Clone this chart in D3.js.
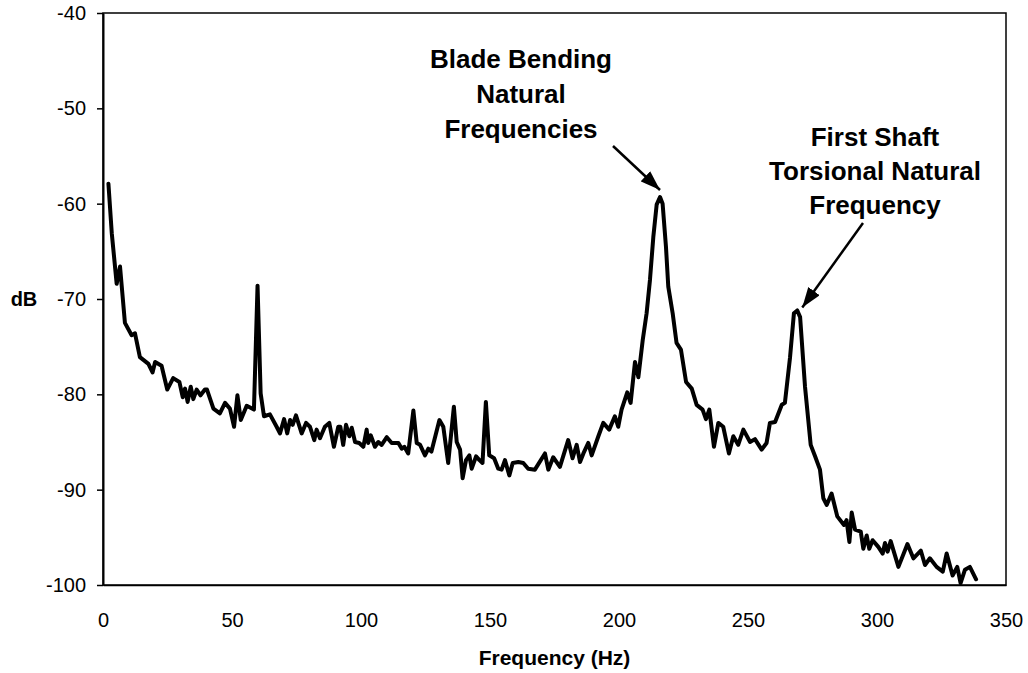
<!DOCTYPE html>
<html>
<head>
<meta charset="utf-8">
<script src="https://cdn.jsdelivr.net/npm/d3@7"></script>
<style>
  html, body { margin: 0; padding: 0; background: #fff; }
  svg { display: block; font-family: Arial, "Liberation Sans", sans-serif; }
</style>
</head>
<body>
<svg id="chart" width="1028" height="673"></svg>
<script>
// Frequency (Hz) of each sample
const freqHz = [
  2.1, 3.4, 5.3, 6.6, 8.5, 11.1, 12.4, 14.3, 17.6, 19.2, 20.2, 22.7, 24.9, 27.2, 29.6, 30.9, 31.8, 32.8, 34.0, 35.0,
  36.3, 37.8, 39.5, 40.3, 42.8, 45.3, 47.3, 49.2, 50.8, 52.1, 53.4, 55.7, 58.5, 59.9, 61.1, 62.4, 64.7, 67.3, 68.6, 70.2,
  71.4, 72.5, 73.5, 74.8, 77.0, 78.7, 80.2, 81.9, 82.8, 84.1, 86.0, 87.7, 89.5, 91.2, 92.0, 93.1, 94.2, 95.5, 96.4, 97.7,
  99.3, 100.9, 102.2, 102.8, 103.8, 105.4, 106.7, 108.0, 110.0, 111.9, 114.5, 115.8, 116.8, 118.3, 120.3, 121.6, 122.9, 124.8, 126.1, 127.3,
  130.4, 131.9, 133.8, 136.0, 137.1, 138.4, 139.4, 140.7, 142.0, 142.9, 144.6, 145.9, 147.1, 148.4, 149.7, 151.6, 153.2, 154.5, 155.8, 157.5,
  158.8, 161.0, 162.9, 164.8, 167.4, 171.3, 172.6, 174.5, 177.1, 180.3, 182.0, 183.6, 184.9, 186.2, 188.1, 189.4, 192.0, 193.9, 196.2, 198.4,
  199.7, 201.0, 203.2, 204.5, 206.2, 207.5, 209.2, 210.7, 212.0, 213.3, 214.6, 215.9, 216.9, 218.2, 219.1, 220.8, 222.3, 224.0, 226.0, 228.2,
  230.1, 232.4, 233.7, 235.0, 236.8, 238.5, 240.4, 242.6, 244.3, 246.2, 248.2, 250.8, 252.7, 255.3, 257.2, 258.5, 260.5, 263.1, 264.3, 266.3,
  267.8, 269.1, 270.2, 272.1, 274.3, 276.0, 277.9, 279.2, 280.5, 282.4, 284.6, 287.2, 288.2, 289.3, 290.2, 291.5, 293.7, 294.7, 296.0, 297.0,
  298.3, 300.5, 302.2, 303.1, 304.1, 305.3, 308.3, 311.8, 314.1, 317.0, 318.6, 320.5, 323.1, 325.5, 327.0, 329.3, 331.1, 332.4, 334.1, 336.0,
  338.4
];
// Level (dB) of each sample
const levelDb = [
  -57.9, -63.1, -68.4, -66.6, -72.5, -73.8, -73.6, -76.1, -76.8, -77.7, -76.6, -77.0, -79.5, -78.3, -78.7, -80.3, -79.4, -80.8, -79.2, -80.5,
  -79.5, -80.1, -79.5, -79.5, -81.5, -82.0, -80.9, -81.5, -83.4, -80.1, -82.7, -81.2, -81.6, -68.6, -79.9, -82.3, -82.1, -83.4, -84.1, -82.6,
  -84.1, -82.7, -83.2, -82.2, -84.1, -83.0, -83.4, -84.8, -83.7, -84.6, -83.4, -83.0, -85.5, -83.4, -83.4, -85.3, -83.2, -84.4, -83.5, -85.0,
  -85.1, -85.5, -83.7, -85.1, -84.3, -85.5, -85.0, -85.3, -84.5, -85.1, -85.1, -85.7, -85.5, -86.2, -81.7, -85.1, -85.3, -86.4, -85.7, -86.0,
  -82.7, -83.4, -87.2, -81.3, -85.0, -85.8, -88.8, -86.9, -86.4, -87.8, -86.5, -86.9, -87.2, -80.8, -86.4, -86.7, -87.8, -87.9, -86.9, -88.5,
  -87.2, -87.1, -87.2, -87.8, -87.9, -86.2, -87.9, -86.6, -87.6, -84.8, -86.7, -85.3, -87.1, -86.2, -85.1, -86.4, -84.4, -83.0, -83.7, -82.3,
  -83.4, -81.6, -79.8, -80.9, -76.6, -78.2, -74.3, -71.5, -68.0, -63.5, -60.1, -59.3, -60.0, -64.5, -68.7, -71.5, -74.6, -75.3, -78.7, -79.4,
  -81.1, -81.6, -82.6, -81.6, -85.5, -83.0, -83.4, -86.2, -84.4, -85.3, -83.7, -85.0, -84.7, -85.8, -85.1, -83.0, -82.9, -81.1, -80.9, -76.1,
  -71.5, -71.2, -71.9, -79.2, -85.3, -86.5, -87.9, -90.9, -91.6, -90.4, -92.8, -93.7, -93.2, -95.5, -92.4, -94.2, -94.4, -96.2, -94.8, -96.2,
  -95.3, -96.0, -96.7, -95.6, -96.5, -95.4, -98.1, -95.7, -97.2, -96.4, -97.9, -97.2, -98.1, -98.6, -96.7, -99.0, -98.1, -99.8, -98.4, -98.1,
  -99.4
];
const xTicks = [0, 50, 100, 150, 200, 250, 300, 350];
const yTicks = [-40, -50, -60, -70, -80, -90, -100];
const xTitle = "Frequency (Hz)";
const yTitle = "dB";
const bladeLabel = ["Blade Bending", "Natural", "Frequencies"];
const bladePeak = [215.9, -59.3];
const shaftLabel = ["First Shaft", "Torsional Natural", "Frequency"];
const shaftPeak = [269.1, -71.2];

const svg = d3.select("#chart");
const W = 1028, H = 673;
const m = { left: 103, top: 13, right: 22, bottom: 88 };
const iw = W - m.left - m.right, ih = H - m.top - m.bottom;

const x = d3.scaleLinear().domain([0, 350]).range([0, iw]);
const y = d3.scaleLinear().domain([-100, -40]).range([ih, 0]);

const defs = svg.append("defs");
defs.append("marker")
  .attr("id", "arrow")
  .attr("markerUnits", "userSpaceOnUse")
  .attr("viewBox", "0 0 20 14")
  .attr("refX", 20).attr("refY", 7)
  .attr("markerWidth", 20).attr("markerHeight", 14)
  .attr("orient", "auto")
  .append("path").attr("d", "M0,0 L20,7 L0,14 Z").attr("fill", "#000");

const g = svg.append("g").attr("transform", `translate(${m.left},${m.top})`);

// plot border
g.append("rect").attr("x", 0).attr("y", 0).attr("width", iw).attr("height", ih)
  .attr("fill", "none").attr("stroke", "#000").attr("stroke-width", 1.5);

// y axis
const ya = g.append("g").call(d3.axisLeft(y).tickValues(yTicks).tickFormat(d3.format("d"))
  .tickSize(6).tickSizeOuter(0).tickPadding(11));
ya.select(".domain").attr("stroke", "#000").attr("stroke-width", 2);
ya.selectAll(".tick line").attr("stroke", "#000").attr("stroke-width", 1.5);
ya.selectAll("text").attr("font-size", 20).attr("fill", "#000")
  .attr("font-family", "Arial, 'Liberation Sans', sans-serif").text(d => d3.format("d")(d).replace("−", "-"));

// x axis
const xa = g.append("g").attr("transform", `translate(0,${ih})`)
  .call(d3.axisBottom(x).tickValues(xTicks).tickSize(0).tickSizeOuter(0).tickPadding(28));
xa.select(".domain").attr("stroke", "#000").attr("stroke-width", 1.5);
xa.selectAll("text").attr("font-size", 20).attr("fill", "#000")
  .attr("font-family", "Arial, 'Liberation Sans', sans-serif");

// axis titles
svg.append("text").attr("x", m.left + iw / 2).attr("y", 665)
  .attr("text-anchor", "middle").attr("font-size", 21).attr("font-weight", "bold").text(xTitle);
svg.append("text").attr("x", 24).attr("y", m.top + y(-70) + 7)
  .attr("text-anchor", "middle").attr("font-size", 20).attr("font-weight", "bold").text(yTitle);

// series line
const data = freqHz.map((f, i) => [f, levelDb[i]]);
g.append("path").datum(data)
  .attr("fill", "none").attr("stroke", "#000").attr("stroke-width", 4)
  .attr("stroke-linejoin", "round").attr("stroke-linecap", "round")
  .attr("d", d3.line().x(d => x(d[0])).y(d => y(d[1])));

// annotations
function annotate(lines, cx, firstBaseline, lineGap, from, peak, tipOffset) {
  const t = svg.append("text").attr("text-anchor", "middle").attr("font-size", 26).attr("font-weight", "bold");
  lines.forEach((s, i) => t.append("tspan").attr("x", cx).attr("y", firstBaseline + i * lineGap).text(s));
  const tx = m.left + x(peak[0]) + tipOffset[0], ty = m.top + y(peak[1]) + tipOffset[1];
  svg.append("line").attr("x1", from[0]).attr("y1", from[1]).attr("x2", tx).attr("y2", ty)
    .attr("stroke", "#000").attr("stroke-width", 2.5).attr("marker-end", "url(#arrow)");
}
annotate(bladeLabel, 521, 68, 35, [613, 146], bladePeak, [0, -7]);
annotate(shaftLabel, 875, 146, 34, [863, 223], shaftPeak, [5, -3]);
</script>
</body>
</html>
